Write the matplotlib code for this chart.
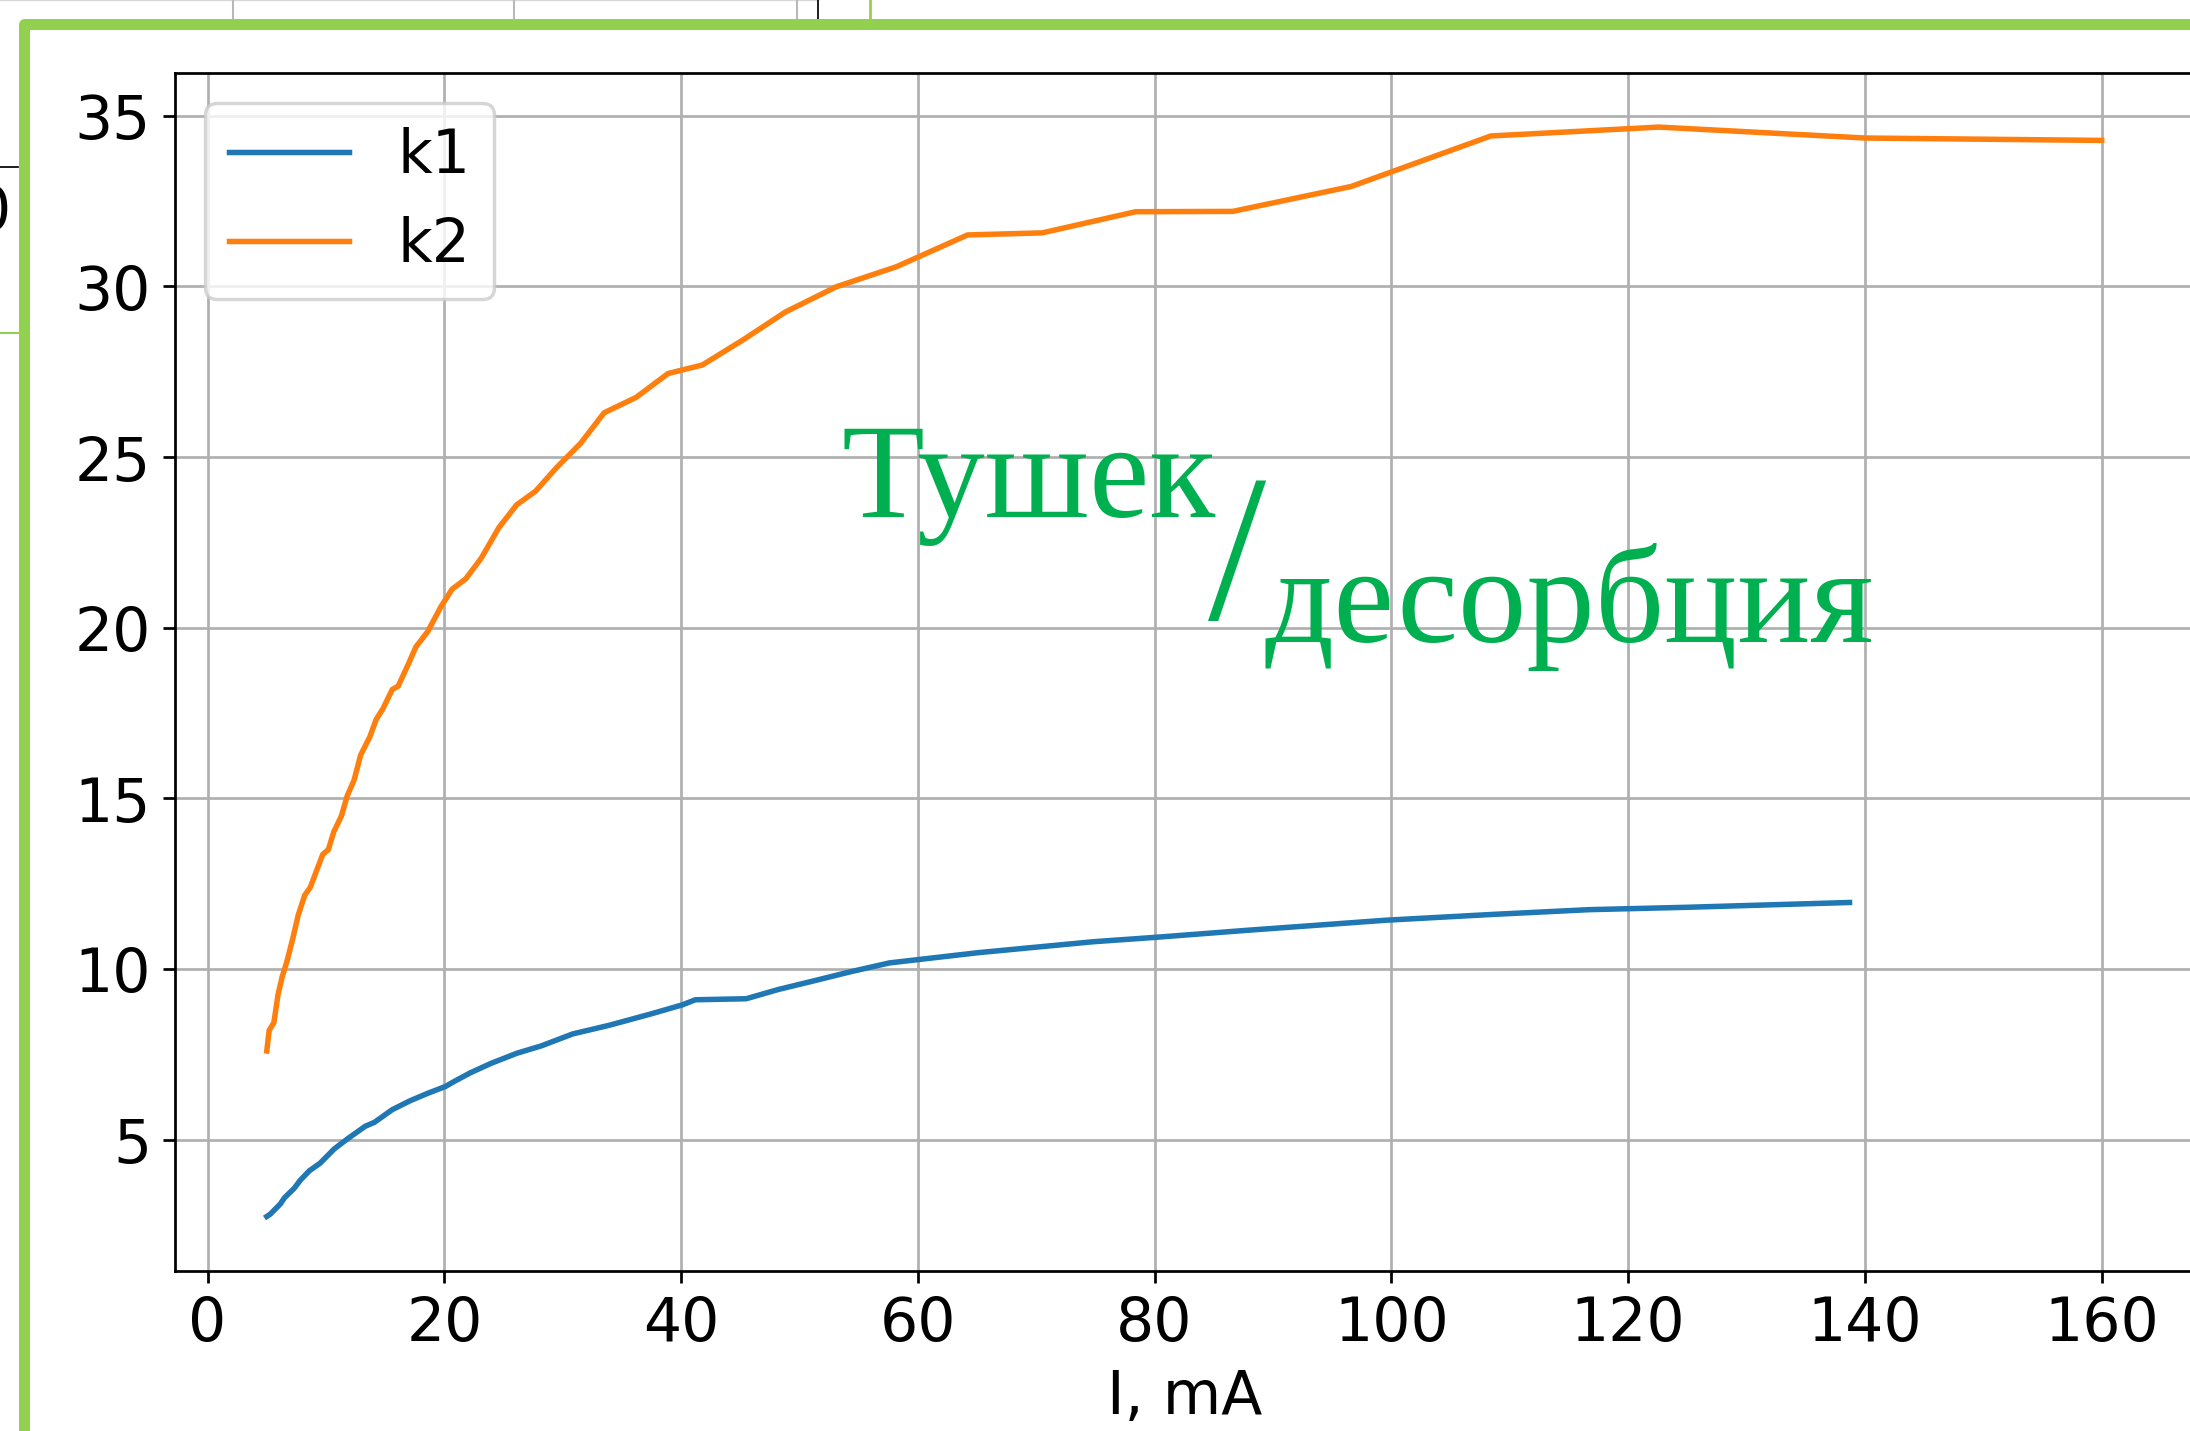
import matplotlib
matplotlib.use('Agg')
import matplotlib.pyplot as plt
from matplotlib.lines import Line2D

# current, mA and coefficients
i_k1 = [5.0, 5.3, 6.15, 6.5, 7.3, 7.85, 8.6, 9.5, 10.7, 11.8, 13.3, 14.1, 15.6, 17.1,
        18.6, 20.1, 20.85, 22.2, 23.9, 26.1, 28.2, 30.85, 33.9, 37.4, 40.1, 41.2, 45.5,
        48.2, 51.4, 54.3, 57.6, 65.1, 74.8, 80.1, 87.6, 99.5, 108.5, 116.7, 125.0, 138.7]
k1 = [2.75, 2.82, 3.12, 3.3, 3.57, 3.82, 4.09, 4.31, 4.73, 5.02, 5.39, 5.51, 5.88, 6.14,
      6.36, 6.56, 6.71, 6.96, 7.23, 7.53, 7.75, 8.1, 8.35, 8.68, 8.95, 9.1, 9.13,
      9.4, 9.67, 9.92, 10.18, 10.48, 10.8, 10.93, 11.13, 11.43, 11.6, 11.74, 11.81, 11.95]

i_k2 = [5.0, 5.2, 5.6, 5.95, 6.3, 6.7, 7.2, 7.65, 8.2, 8.67, 9.16, 9.73, 10.2, 10.67,
        11.3, 11.8, 12.37, 12.93, 13.7, 14.25, 14.8, 15.6, 16.1, 16.9, 17.6, 18.6, 19.7,
        20.65, 21.8, 23.1, 24.6, 26.1, 27.7, 29.5, 31.5, 33.5, 36.2, 38.9, 41.8, 45.3,
        48.8, 53.1, 58.2, 64.2, 70.5, 78.4, 86.6, 96.6, 108.4, 122.6, 140.0, 160.0]
k2 = [7.6, 8.2, 8.43, 9.25, 9.77, 10.22, 10.9, 11.57, 12.16, 12.39, 12.84, 13.36, 13.5, 14.03,
      14.48, 15.08, 15.53, 16.27, 16.8, 17.32, 17.62, 18.19, 18.29, 18.89, 19.44, 19.89, 20.61,
      21.13, 21.43, 22.03, 22.93, 23.6, 24.0, 24.7, 25.4, 26.3, 26.75, 27.45, 27.7, 28.45,
      29.25, 29.99, 30.58, 31.51, 31.57, 32.19, 32.2, 32.93, 34.41, 34.67, 34.35, 34.28]

DPI = 247
W, H = 2190, 1431
GREEN_FRAME = '#92D050'
GREEN_TEXT = '#00B050'


def fx(px):
    return px / W


def fy(py):
    return 1 - py / H


plt.rcParams['font.size'] = 17.5
fig = plt.figure(figsize=((W + 0.4) / DPI, (H + 0.4) / DPI), dpi=DPI)
fig.patch.set_facecolor('white')

ax = fig.add_axes([fx(175), fy(1271), fx(2193) - fx(175), fy(73) - fy(1271)])
ax.plot(i_k1, k1, label='k1', lw=1.6)
ax.plot(i_k2, k2, label='k2', lw=1.6)
ax.grid(True)
ax.set_xlabel('I, mA')
ax.legend(loc='upper left')

# overlaid caption
serif = ['Liberation Serif', 'DejaVu Serif']
fig.text(fx(841), fy(517), 'Тушек', color=GREEN_TEXT, fontsize=39.5, family=serif, va='baseline')
fig.text(fx(1208), fy(619), '/', color=GREEN_TEXT, fontsize=61, family=serif, va='baseline')
fig.text(fx(1264), fy(642), 'десорбция', color=GREEN_TEXT, fontsize=39.8, family=serif, va='baseline')

# bits of the page around the picture
def seg(x0, y0, x1, y1, color, lw, **kw):
    fig.add_artist(Line2D([fx(x0), fx(x1)], [fy(y0), fy(y1)], color=color, lw=lw,
                          transform=fig.transFigure, **kw))

seg(0, 0.5, 818, 0.5, '#d8d8d8', 0.4)
for gx in [233, 514, 797]:
    seg(gx, 0, gx, 20, '#b8b8b8', 0.6)
seg(818, 0, 818, 20, 'black', 0.5)
seg(870, 0, 870, 20, GREEN_FRAME, 0.8)
seg(0, 167, 18, 167, 'black', 0.5)
seg(0, 333, 20, 333, GREEN_FRAME, 0.6)
fig.text(fx(11), fy(213), '0', ha='right', va='center', fontsize=17.5)

fig.add_artist(Line2D([fx(2200), fx(24), fx(24)], [fy(24), fy(24), fy(1440)],
                      color=GREEN_FRAME, lw=3.2, solid_joinstyle='round',
                      transform=fig.transFigure))

fig.savefig('out.png', dpi=DPI)
